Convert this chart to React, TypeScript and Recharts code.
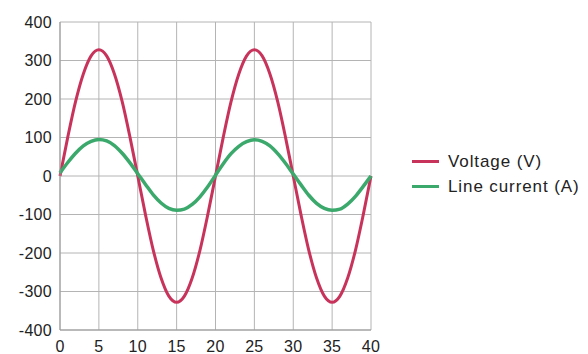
import { LineChart, Line, XAxis, YAxis, CartesianGrid } from "recharts";

const xValues = [
  0, 1, 2, 3, 4, 5, 6, 7, 8, 9, 10, 11, 12, 13, 14, 15, 16, 17, 18, 19, 20,
  21, 22, 23, 24, 25, 26, 27, 28, 29, 30, 31, 32, 33, 34, 35, 36, 37, 38, 39, 40,
];

const voltage = [
  0, 101, 193, 265, 312, 328, 312, 265, 193, 101, 0, -101, -193, -265, -312, -328, -312, -265, -193, -101, 0,
  101, 193, 265, 312, 328, 312, 265, 193, 101, 0, -101, -193, -265, -312, -328, -312, -265, -193, -101, 0,
];

const current = [
  8, 35, 59, 78, 90, 95, 91, 79, 59, 34, 6, -22, -49, -70, -84, -89, -86, -74, -54, -28, 2,
  32, 58, 77, 89, 94, 90, 78, 58, 33, 5, -23, -50, -71, -84, -89, -86, -73, -53, -27, 0,
];

const xTicks = [0, 5, 10, 15, 20, 25, 30, 35, 40];
const yTicks = [-400, -300, -200, -100, 0, 100, 200, 300, 400];

const seriesNames = ["Voltage (V)", "Line current (A)"];
const COLORS = ["#c8335b", "#3ca96c"];

const data = xValues.map((x, i) => ({ x, voltage: voltage[i], current: current[i] }));

const tickStyle = {
  fill: "#222",
  fontSize: 16,
  letterSpacing: 0.3,
  fontFamily: "Liberation Sans, Arial, sans-serif",
};

export default function App() {
  return (
    <div style={{ position: "relative", width: 580, height: 346, overflow: "hidden", background: "#fff" }}>
      <LineChart width={580} height={346} data={data} margin={{ top: 14, right: 217, left: 0, bottom: 0 }}>
        <CartesianGrid stroke="#b4b4b4" strokeWidth={1} />
        <XAxis
          dataKey="x"
          type="number"
          domain={[0, 40]}
          ticks={xTicks}
          tickLine={false}
          tickSize={6}
          tickMargin={5}
          height={24}
          axisLine={{ stroke: "#999" }}
          tick={tickStyle}
          interval={0}
        />
        <YAxis
          type="number"
          domain={[-400, 400]}
          ticks={yTicks}
          tickLine={false}
          width={52}
          axisLine={{ stroke: "#999" }}
          tick={tickStyle}
          interval={0}
        />
        <Line
          type="monotone"
          dataKey="voltage"
          stroke={COLORS[0]}
          strokeWidth={3}
          dot={false}
          isAnimationActive={false}
        />
        <Line
          type="monotone"
          dataKey="current"
          stroke={COLORS[1]}
          strokeWidth={3.5}
          dot={false}
          isAnimationActive={false}
        />
      </LineChart>

      <div style={{ position: "absolute", left: 404, top: 141, fontFamily: "Liberation Sans, Arial, sans-serif" }}>
        {seriesNames.map((name, i) => (
          <div key={name} style={{ display: "flex", alignItems: "center", height: 25, whiteSpace: "nowrap" }}>
            <span style={{ display: "inline-block", width: 27, height: 3, background: COLORS[i], marginRight: 9 }} />
            <span style={{ fontSize: 17, letterSpacing: 0.9, color: "#222" }}>{name}</span>
          </div>
        ))}
      </div>
    </div>
  );
}
